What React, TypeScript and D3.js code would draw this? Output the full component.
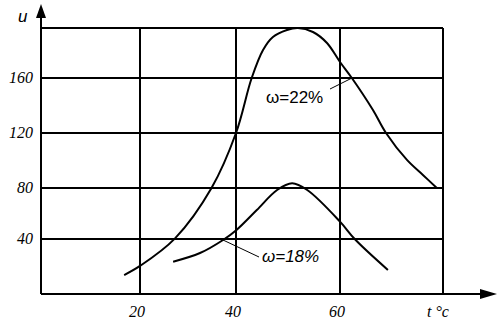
import * as d3 from 'd3';

// temperature ticks and moisture levels
const xTicks = [20, 40, 60];
const yTicks = [40, 80, 120, 160];
const xGrid = [20, 40, 60, 80];
const yGrid = [40, 80, 120, 160, 200];

// w = 22%
const curve22T = [16.8, 20, 27.3, 34.9, 40, 43, 45.2, 47.1, 49.8, 51.9, 54.8, 57.5, 60, 62.3, 66.4, 68.9, 73, 76.1, 78.8];
const curve22U = [13.8, 20.4, 40.5, 80, 120, 159.8, 182.4, 192.8, 198.4, 200, 196.8, 188, 172.8, 160, 136.7, 120.2, 100.4, 89.5, 80];

// w = 18%
const curve18T = [26.9, 32.5, 37.3, 40.1, 44, 47.9, 50.8, 53.7, 60, 62.9, 69.3];
const curve18U = [23.5, 29.8, 39.3, 47.1, 62.7, 78.4, 83.4, 78.4, 53.6, 39.8, 17.5];

const W = 500;
const H = 325;

export default function App() {
  // hand-drawn grid is not evenly spaced, so piecewise scales
  const x = d3.scaleLinear().domain([0, 20, 40, 60, 80]).range([41, 140, 236, 340, 443]);
  const y = d3.scaleLinear().domain([0, 40, 80, 120, 160, 200]).range([294, 239, 188, 133, 78, 28]);

  const line = d3.line<[number, number]>()
    .x(d => x(d[0]))
    .y(d => y(d[1]))
    .curve(d3.curveCatmullRom.alpha(0.5));

  const pts22 = curve22T.map((t, i) => [t, curve22U[i]] as [number, number]);
  const pts18 = curve18T.map((t, i) => [t, curve18U[i]] as [number, number]);

  const serif = '"Liberation Serif", "Times New Roman", serif';
  const sans = '"Liberation Sans", Arial, sans-serif';

  return (
    <svg width={W} height={H} style={{ position: 'absolute', left: 0, top: 0, background: '#fff' }}>
      {/* grid */}
      {yGrid.map(v => (
        <line key={'h' + v} x1={x(0)} x2={x(80)} y1={y(v)} y2={y(v)} stroke="#000" strokeWidth={2} />
      ))}
      {xGrid.map(v => (
        <line key={'v' + v} x1={x(v)} x2={x(v)} y1={y(0)} y2={y(200)} stroke="#000" strokeWidth={2} />
      ))}

      {/* axes */}
      <line x1={x(0)} x2={484} y1={y(0)} y2={y(0)} stroke="#000" strokeWidth={2} />
      <path d={`M497,${y(0)} L480,${y(0) - 5} L480,${y(0) + 5} Z`} fill="#000" />
      <line x1={x(0)} x2={x(0)} y1={y(0)} y2={14} stroke="#000" strokeWidth={2} />
      <path d={`M${x(0)},4 L${x(0) - 5},18 L${x(0) + 5},18 Z`} fill="#000" />

      {/* tick labels */}
      {xTicks.map(v => (
        <text key={'xt' + v} x={x(v) - 3} y={317} textAnchor="middle" fontFamily={serif}
          fontStyle="italic" fontSize={16}>{v}</text>
      ))}
      {yTicks.map(v => (
        <text key={'yt' + v} x={33} y={y(v) + 5} textAnchor="end" fontFamily={serif}
          fontStyle="italic" fontSize={16}>{v}</text>
      ))}
      <text x={18} y={22} fontFamily={sans} fontStyle="italic" fontSize={17}>u</text>
      <text x={427} y={317} fontFamily={serif} fontStyle="italic" fontSize={16}>t °c</text>

      {/* curves */}
      <path d={line(pts22) || ''} fill="none" stroke="#000" strokeWidth={2} />
      <path d={line(pts18) || ''} fill="none" stroke="#000" strokeWidth={2} />

      {/* labels */}
      <line x1={330} y1={89} x2={352} y2={78} stroke="#000" strokeWidth={1} />
      <text x={266} y={103} fontFamily={sans} fontSize={17}>ω=22%</text>
      <line x1={223} y1={240} x2={259} y2={257} stroke="#000" strokeWidth={1} />
      <text x={262} y={262} fontFamily={sans} fontStyle="italic" fontSize={17}>ω=18%</text>
    </svg>
  );
}
